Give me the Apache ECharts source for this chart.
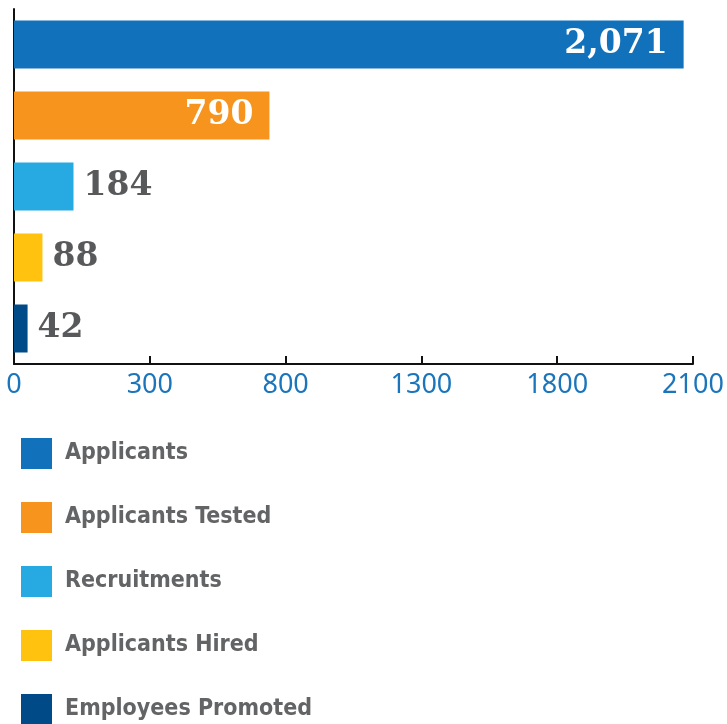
<!DOCTYPE html>
<html>
<head>
<meta charset="utf-8">
<script src="https://cdn.jsdelivr.net/npm/echarts@6/dist/echarts.min.js"></script>
<style>html,body{margin:0;padding:0;background:#fff}#c{width:727px;height:724px}</style>
</head>
<body>
<div id="c"></div>
<script>
var categories = ['Applicants', 'Applicants Tested', 'Recruitments', 'Applicants Hired', 'Employees Promoted'];
var values = [2071, 790, 184, 88, 42];
var tickLabels = ['0', '300', '800', '1300', '1800', '2100'];

var colors = ['#1172bb', '#f7941e', '#27aae1', '#ffc20e', '#004a87'];
var insideLabel = [true, true, false, false, false];

function fmt(v) { return String(v).replace(/\B(?=(\d{3})+(?!\d))/g, ','); }

var series = categories.map(function (name, i) {
  var d = categories.map(function (c, j) { return j === i ? values[i] : '-'; });
  return {
    name: name,
    type: 'bar',
    data: d,
    barWidth: 48,
    barGap: '-100%',
    itemStyle: { color: colors[i] },
    label: {
      show: true,
      position: insideLabel[i] ? 'insideRight' : 'right',
      distance: insideLabel[i] ? 16 : 10,
      formatter: function (p) { return fmt(p.value); },
      color: insideLabel[i] ? '#ffffff' : '#58595b',
      fontFamily: 'DejaVu Serif',
      fontWeight: 'bold',
      fontSize: 33
    }
  };
});

var chart = echarts.init(document.getElementById('c'));
chart.setOption({
  animation: false,
  grid: { left: 14, right: 34, top: 9, bottom: 360, containLabel: false },
  legend: {
    orient: 'vertical',
    left: 21,
    top: 438,
    height: 290,
    padding: 0,
    itemWidth: 31,
    itemHeight: 31,
    itemGap: 33,
    icon: 'rect',
    data: categories,
    textStyle: {
      color: '#636466',
      fontFamily: "'DejaVu Sans Condensed', 'Liberation Sans Narrow', 'Roboto', sans-serif",
      fontWeight: 'bold',
      fontSize: 23,
      padding: [0, 0, 0, 8]
    }
  },
  xAxis: {
    type: 'value',
    min: 0,
    max: 2100,
    interval: 420,
    splitLine: { show: false },
    axisLine: { show: true, lineStyle: { color: '#111', width: 2 } },
    axisTick: { show: true, inside: true, length: 8, lineStyle: { color: '#111', width: 2 } },
    axisLabel: {
      color: '#1b75bc',
      fontFamily: 'Noto Sans',
      fontSize: 27,
      margin: 8,
      showMinLabel: true,
      showMaxLabel: true,
      formatter: function (v) { return tickLabels[Math.round(v / 420)]; }
    }
  },
  yAxis: {
    type: 'category',
    data: categories,
    inverse: true,
    axisLine: { show: true, lineStyle: { color: '#111', width: 2 } },
    axisTick: { show: false },
    axisLabel: { show: false }
  },
  series: series
});
</script>
</body>
</html>
